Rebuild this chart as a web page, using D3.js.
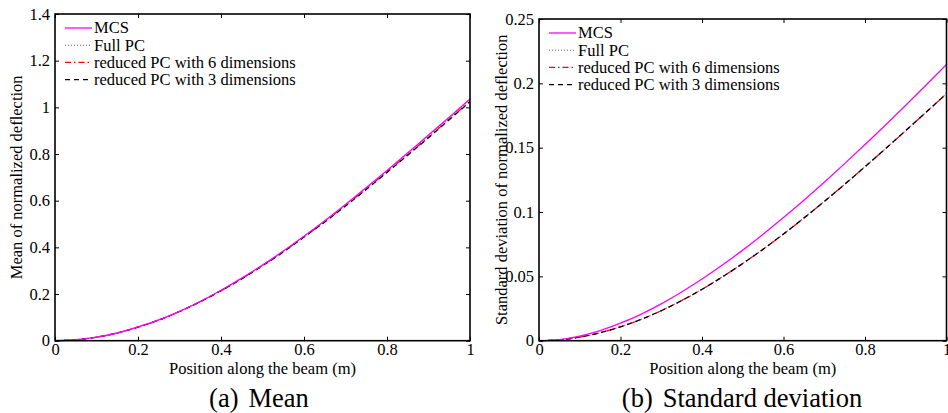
<!DOCTYPE html>
<html>
<head>
<meta charset="utf-8">
<script src="https://cdn.jsdelivr.net/npm/d3@7"></script>
<style>
  body { margin: 0; background: #fff; }
  svg { display: block; font-family: "Liberation Serif", "Times New Roman", "DejaVu Serif", serif; }
</style>
</head>
<body>
<svg id="chart" width="948" height="413"></svg>
<script>
// positions along the beam (m)
var positions = [0, 0.05, 0.1, 0.15, 0.2, 0.25, 0.3, 0.35, 0.4, 0.45, 0.5,
                 0.55, 0.6, 0.65, 0.7, 0.75, 0.8, 0.85, 0.9, 0.95, 1];

// mean of normalized deflection
var meanMcs  = [0, 0.004, 0.015, 0.033, 0.059, 0.089, 0.126, 0.168, 0.216, 0.268, 0.324,
                0.384, 0.448, 0.514, 0.584, 0.656, 0.729, 0.805, 0.881, 0.958, 1.036];
var meanFull = [0, 0.004, 0.015, 0.033, 0.058, 0.089, 0.126, 0.168, 0.215, 0.267, 0.323,
                0.383, 0.447, 0.513, 0.582, 0.654, 0.727, 0.802, 0.878, 0.955, 1.032];
var meanRed6 = [0, 0.004, 0.015, 0.033, 0.058, 0.088, 0.125, 0.167, 0.214, 0.266, 0.322,
                0.381, 0.445, 0.510, 0.579, 0.650, 0.723, 0.797, 0.872, 0.949, 1.026];
var meanRed3 = [0, 0.004, 0.015, 0.033, 0.058, 0.088, 0.125, 0.167, 0.214, 0.265, 0.321,
                0.380, 0.444, 0.509, 0.577, 0.648, 0.721, 0.795, 0.870, 0.947, 1.024];

// standard deviation of normalized deflection
var stdMcs  = [0, 0.0009, 0.0036, 0.0079, 0.0136, 0.0205, 0.0286, 0.0378, 0.0479, 0.0588, 0.0704,
               0.0828, 0.0957, 0.1092, 0.1232, 0.1376, 0.1524, 0.1675, 0.1830, 0.1987, 0.2147];
var stdFull = [0, 0.0007, 0.0028, 0.0062, 0.0108, 0.0165, 0.0233, 0.0312, 0.0399, 0.0496, 0.0600,
               0.0711, 0.0829, 0.0953, 0.1082, 0.1215, 0.1352, 0.1491, 0.1633, 0.1776, 0.1920];
var stdRed6 = [0, 0.0007, 0.0028, 0.0062, 0.0108, 0.0165, 0.0233, 0.0312, 0.0399, 0.0496, 0.0600,
               0.0711, 0.0829, 0.0953, 0.1082, 0.1215, 0.1352, 0.1491, 0.1633, 0.1776, 0.1920];
var stdRed3 = [0, 0.0007, 0.0028, 0.0062, 0.0108, 0.0165, 0.0233, 0.0312, 0.0399, 0.0496, 0.0600,
               0.0711, 0.0829, 0.0953, 0.1082, 0.1215, 0.1352, 0.1491, 0.1633, 0.1776, 0.1920];

var seriesNames = ['MCS', 'Full PC', 'reduced PC with 6 dimensions', 'reduced PC with 3 dimensions'];
var xTicks = [0, 0.2, 0.4, 0.6, 0.8, 1];
var meanTicks = [0, 0.2, 0.4, 0.6, 0.8, 1, 1.2, 1.4];
var stdTicks = [0, 0.05, 0.1, 0.15, 0.2, 0.25];

(function () {
  var svg = d3.select('#chart'),
      fmt = d3.format('~g'),
      serif = '"Liberation Serif", "Times New Roman", "DejaVu Serif", serif',
      fontSize = '16.5px';

  // line styles, same order as seriesNames
  var styles = [
    { color: '#ff00ff', dash: null,        width: 1.3 },
    { color: '#5555ff', dash: '1,2',       width: 1.1 },
    { color: '#ff0000', dash: '6,3,1.5,3', width: 1.2 },
    { color: '#000000', dash: '5,4',       width: 1.3 }
  ];

  function drawPanel(opts) {
    var x = d3.scaleLinear().domain([0, 1]).range([opts.left, opts.right]),
        y = d3.scaleLinear().domain(opts.yDomain).range([opts.bottom, opts.top]),
        g = svg.append('g'),
        tick = 4;

    var line = d3.line()
      .x(function (d) { return x(d[0]); })
      .y(function (d) { return y(d[1]); })
      .curve(d3.curveMonotoneX);

    // MCS goes last so it sits on top, like in the figure
    [1, 2, 3, 0].forEach(function (i) {
      g.append('path')
        .datum(positions.map(function (p, k) { return [p, opts.series[i][k]]; }))
        .attr('d', line)
        .attr('fill', 'none')
        .attr('stroke', styles[i].color)
        .attr('stroke-width', styles[i].width)
        .attr('stroke-dasharray', styles[i].dash);
    });

    // inward ticks on all four sides
    g.append('g')
      .attr('transform', 'translate(0,' + opts.bottom + ')')
      .call(d3.axisBottom(x).tickValues(xTicks).tickFormat(fmt).tickSizeInner(-tick).tickSizeOuter(0).tickPadding(3));
    g.append('g')
      .attr('transform', 'translate(0,' + opts.top + ')')
      .call(d3.axisTop(x).tickValues(xTicks).tickFormat('').tickSizeInner(-tick).tickSizeOuter(0));
    g.append('g')
      .attr('transform', 'translate(' + opts.left + ',0)')
      .call(d3.axisLeft(y).tickValues(opts.yTicks).tickFormat(fmt).tickSizeInner(-tick).tickSizeOuter(0).tickPadding(5));
    g.append('g')
      .attr('transform', 'translate(' + opts.right + ',0)')
      .call(d3.axisRight(y).tickValues(opts.yTicks).tickFormat('').tickSizeInner(-tick).tickSizeOuter(0));

    g.selectAll('.domain').remove();
    g.selectAll('.tick line').attr('stroke', '#000').attr('stroke-width', 1);
    g.selectAll('.tick text')
      .attr('fill', '#000')
      .style('font-family', serif)
      .style('font-size', fontSize);

    g.append('rect')
      .attr('x', opts.left)
      .attr('y', opts.top)
      .attr('width', opts.right - opts.left)
      .attr('height', opts.bottom - opts.top)
      .attr('fill', 'none')
      .attr('stroke', '#000')
      .attr('stroke-width', 1.6);

    // axis titles
    g.append('text')
      .attr('x', (opts.left + opts.right) / 2)
      .attr('y', opts.bottom + 33)
      .attr('text-anchor', 'middle')
      .style('font-size', fontSize)
      .text('Position along the beam (m)');

    g.append('text')
      .attr('transform', 'translate(' + opts.yLabelX + ',' + (opts.top + opts.bottom) / 2 + ') rotate(-90)')
      .attr('text-anchor', 'middle')
      .style('font-size', fontSize)
      .text(opts.yLabel);

    // legend
    var legend = g.append('g')
      .attr('transform', 'translate(' + (opts.left + 10) + ',' + (opts.top + 14) + ')');
    seriesNames.forEach(function (name, i) {
      var row = legend.append('g').attr('transform', 'translate(0,' + i * 17.2 + ')');
      row.append('line')
        .attr('x1', 0).attr('x2', 27)
        .attr('stroke', styles[i].color)
        .attr('stroke-width', styles[i].width)
        .attr('stroke-dasharray', styles[i].dash);
      row.append('text')
        .attr('x', 29)
        .attr('dy', '0.33em')
        .style('font-size', fontSize)
        .text(name);
    });

    // caption under the panel
    var cap = svg.append('text')
      .attr('x', opts.captionX)
      .attr('y', 407)
      .attr('text-anchor', 'middle')
      .style('font-size', '26.5px');
    cap.append('tspan').text(opts.captionTag);
    cap.append('tspan').attr('dx', 10).text(opts.caption);
  }

  drawPanel({
    left: 55, right: 470, top: 14, bottom: 340.7,
    yDomain: [0, 1.4], yTicks: meanTicks,
    series: [meanMcs, meanFull, meanRed6, meanRed3],
    yLabel: 'Mean of normalized deflection', yLabelX: 22,
    captionX: 259, captionTag: '(a)', caption: 'Mean'
  });

  drawPanel({
    left: 539, right: 946.5, top: 19, bottom: 340.7,
    yDomain: [0, 0.25], yTicks: stdTicks,
    series: [stdMcs, stdFull, stdRed6, stdRed3],
    yLabel: 'Standard deviation of normalized deflection', yLabelX: 507,
    captionX: 742, captionTag: '(b)', caption: 'Standard deviation'
  });
})();
</script>
</body>
</html>
